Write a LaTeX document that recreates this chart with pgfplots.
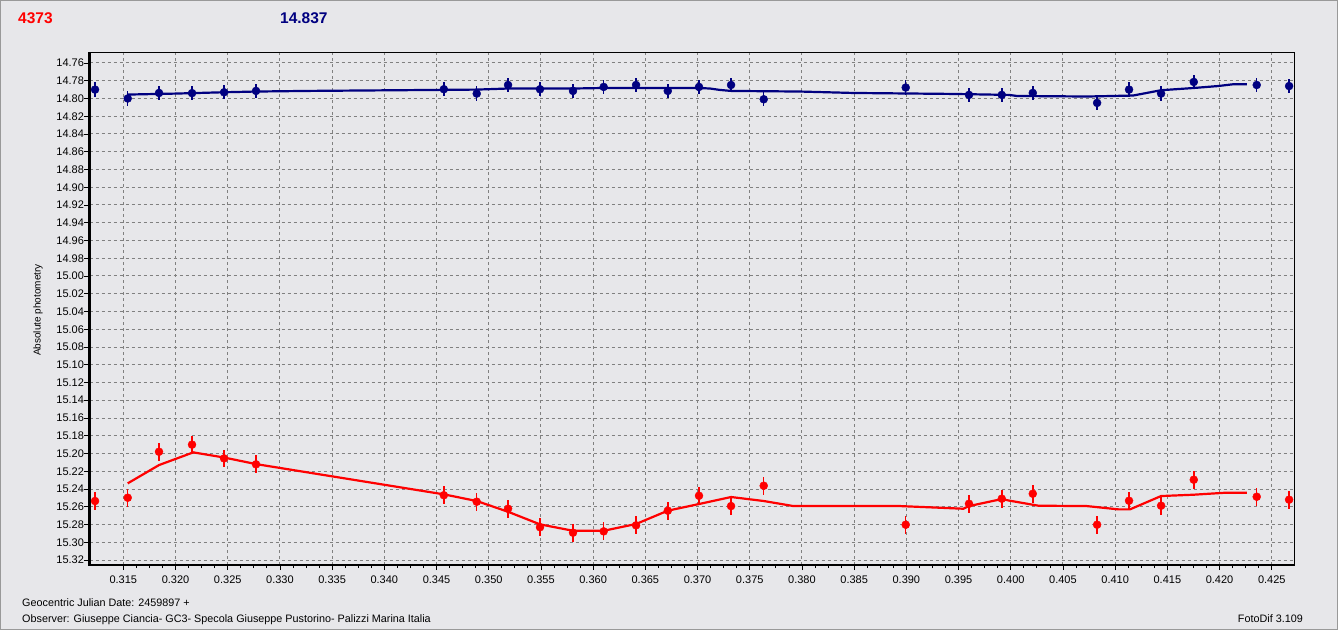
\documentclass[border=0pt]{standalone}
\usepackage{fontspec}
\setmainfont{Liberation Sans}
\usepackage{pgfplots}
\usepackage{pgfplotstable}
\pgfplotsset{compat=1.18}
\definecolor{bg}{RGB}{231,231,234}
\definecolor{navy}{RGB}{0,0,128}
\definecolor{gridc}{RGB}{128,128,128}

\pgfplotstableread{
x y e
0.31229 14.7900 0.008
0.31542 14.8000 0.008
0.31842 14.7938 0.008
0.32158 14.7940 0.008
0.32465 14.7930 0.008
0.32771 14.7915 0.008
0.34570 14.7896 0.008
0.34885 14.7945 0.008
0.35185 14.7848 0.008
0.35491 14.7896 0.008
0.35807 14.7915 0.008
0.36101 14.7870 0.008
0.36411 14.7848 0.008
0.36715 14.7915 0.008
0.37014 14.7870 0.008
0.37321 14.7848 0.008
0.37634 14.8009 0.008
0.38994 14.7877 0.008
0.39600 14.7960 0.008
0.39914 14.7960 0.008
0.40211 14.7938 0.008
0.40827 14.8050 0.008
0.41133 14.7900 0.008
0.41440 14.7945 0.008
0.41753 14.7814 0.008
0.42356 14.7848 0.008
0.42666 14.7860 0.008
}\bluepts

\pgfplotstableread{
x y e
0.31229 15.2535 0.010
0.31542 15.2498 0.010
0.31842 15.1980 0.010
0.32158 15.1900 0.010
0.32465 15.2055 0.010
0.32771 15.2122 0.010
0.34570 15.2470 0.010
0.34885 15.2543 0.010
0.35185 15.2622 0.010
0.35491 15.2830 0.010
0.35807 15.2892 0.010
0.36101 15.2877 0.010
0.36411 15.2809 0.010
0.36715 15.2644 0.010
0.37014 15.2476 0.010
0.37321 15.2592 0.010
0.37634 15.2363 0.010
0.38994 15.2802 0.010
0.39600 15.2566 0.010
0.39914 15.2509 0.010
0.40211 15.2453 0.010
0.40827 15.2802 0.010
0.41133 15.2532 0.010
0.41440 15.2588 0.010
0.41753 15.2295 0.010
0.42356 15.2487 0.010
0.42666 15.2520 0.010
}\redpts

\pgfplotstableread{
x y
0.31542 14.7956
0.32002 14.7945
0.32465 14.7930
0.32771 14.7922
0.33269 14.7915
0.34476 14.7904
0.34885 14.7900
0.35185 14.7888
0.35807 14.7888
0.36101 14.7882
0.37014 14.7882
0.37119 14.7888
0.37215 14.7904
0.37321 14.7915
0.37982 14.7922
0.38490 14.7938
0.39447 14.7949
0.39984 14.7960
0.40060 14.7972
0.40731 14.7978
0.41172 14.7967
0.41440 14.7907
0.41753 14.7882
0.41986 14.7860
0.42130 14.7840
0.42261 14.7840
}\blueline

\pgfplotstableread{
x y
0.31542 15.2336
0.31842 15.2130
0.32170 15.1987
0.32465 15.2045
0.32771 15.2119
0.34570 15.2460
0.34885 15.2535
0.35185 15.2656
0.35491 15.2798
0.35807 15.2870
0.36101 15.2870
0.36411 15.2794
0.36715 15.2644
0.37014 15.2569
0.37321 15.2490
0.37634 15.2535
0.37918 15.2592
0.38940 15.2592
0.39546 15.2622
0.39600 15.2592
0.39914 15.2513
0.39993 15.2532
0.40265 15.2588
0.40728 15.2592
0.41030 15.2629
0.41142 15.2629
0.41440 15.2479
0.41753 15.2464
0.42050 15.2442
0.42261 15.2442
}\redline

\begin{document}
\begin{tikzpicture}
\fill[bg] (0pt,0pt) rectangle (1338pt,630pt);
\draw[gray!80, line width=1pt] (0.5pt,0.5pt) rectangle (1337.5pt,629.5pt);
\useasboundingbox (0pt,0pt) rectangle (1338pt,630pt);
\node[anchor=base west, text=red, font=\fontsize{15.5}{17}\selectfont\bfseries, inner sep=0pt] at (18pt,606.5pt) {4373};
\node[anchor=base west, text=navy, font=\fontsize{15.5}{17}\selectfont\bfseries, inner sep=0pt] at (280pt,606.5pt) {14.837};
\node[rotate=90, font=\fontsize{10}{12}\selectfont, inner sep=0pt] at (38pt,320pt) {Absolute photometry};
\node[anchor=base west, font=\fontsize{10.8}{12}\selectfont, inner sep=0pt] at (22pt,24pt) {Geocentric Julian Date: 2459897 +};
\node[anchor=base west, font=\fontsize{10.8}{12}\selectfont, inner sep=0pt] at (22pt,8pt) {Observer: Giuseppe Ciancia- GC3- Specola Giuseppe Pustorino- Palizzi Marina Italia};
\node[anchor=base east, font=\fontsize{10.8}{12}\selectfont, inner sep=0pt] at (1303pt,8pt) {FotoDif 3.109};
\begin{axis}[
  at={(89.5pt,65pt)}, anchor=south west, scale only axis,
  width=1204.8pt, height=512.7pt,
  xmin=0.31176, xmax=0.42716, ymin=14.748, ymax=15.3256,
  y dir=reverse,
  clip=false,
  axis background/.style={fill=bg},
  axis line style={line width=1pt, black},
  xtick={0.315,0.320,0.325,0.330,0.335,0.340,0.345,0.350,0.355,0.360,0.365,0.370,0.375,0.380,0.385,0.390,0.395,0.400,0.405,0.410,0.415,0.420,0.425},
  ytick={14.76,14.78,14.80,14.82,14.84,14.86,14.88,14.90,14.92,14.94,14.96,14.98,15.00,15.02,15.04,15.06,15.08,15.10,15.12,15.14,15.16,15.18,15.20,15.22,15.24,15.26,15.28,15.30,15.32},
  minor x tick num=3,
  scaled x ticks=false, scaled y ticks=false,
  xticklabel style={/pgf/number format/.cd, fixed, fixed zerofill, precision=3, assume math mode=true},
  yticklabel style={/pgf/number format/.cd, fixed, fixed zerofill, precision=2, assume math mode=true},
  tick label style={font=\fontsize{11}{13}\selectfont},
  tick align=outside,
  major tick length=5pt, minor tick length=3pt,
  tick style={black, line width=0.8pt},
  xtick pos=bottom, ytick pos=left,
  grid=major,
  major grid style={gridc, line width=1pt, dash pattern=on 3pt off 3pt},
  xticklabel shift=2pt,
  yticklabel shift=-3pt,
]
\addplot[navy, line width=2.2pt] table[x=x,y=y] {\blueline};
\addplot[red, line width=2.2pt] table[x=x,y=y] {\redline};
\addplot[only marks, navy, mark=*, mark size=4pt,
  error bars/.cd, y dir=both, y explicit, error mark=none,
  error bar style={line width=1.5pt, navy}]
  table[x=x, y=y, y error=e] {\bluepts};
\addplot[only marks, red, mark=*, mark size=4pt,
  error bars/.cd, y dir=both, y explicit, error mark=none,
  error bar style={line width=1.5pt, red}]
  table[x=x, y=y, y error=e] {\redpts};
\draw[black, line width=2.5pt] (rel axis cs:0,1) -- (rel axis cs:0,0) -- (rel axis cs:1,0);
\end{axis}
\end{tikzpicture}
\end{document}
